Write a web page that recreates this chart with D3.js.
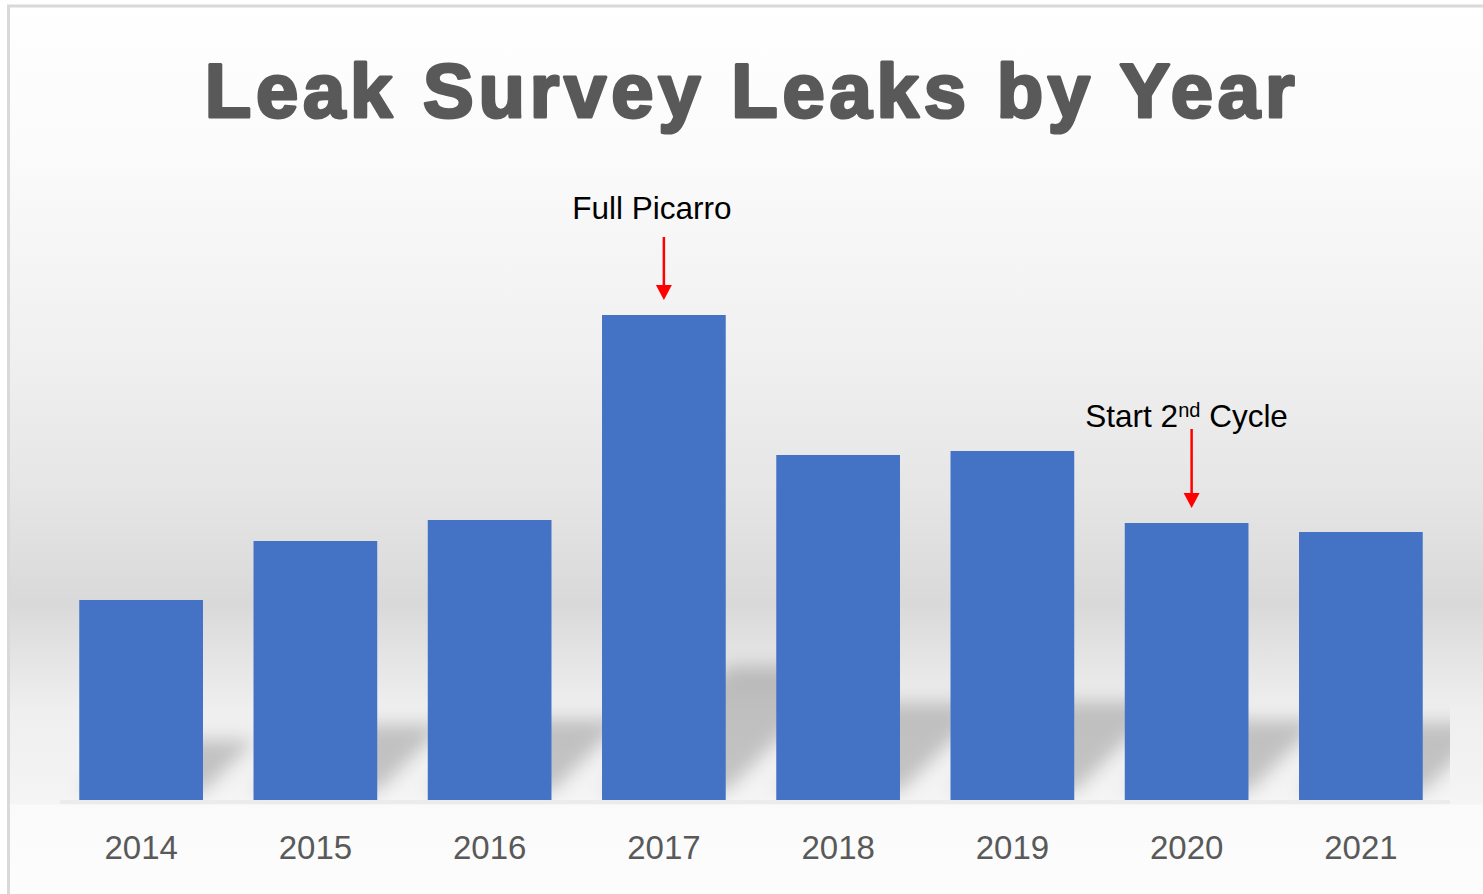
<!DOCTYPE html>
<html lang="en">
    <head>
        <meta charset="utf-8">
        <title>Leak Survey Leaks by Year</title>
        <script src="https://d3js.org/d3.v7.min.js"></script>
        <style>
            body { margin: 0; background: #ffffff; }
            svg { display: block; }
        </style>
    </head>

    <body>
        <div id="chart"></div>

        <script>

            // data (no value axis, so relative bar heights)
            var years = ["2014", "2015", "2016", "2017", "2018", "2019", "2020", "2021"];
            var leaks = [200, 259, 280, 485, 345, 349, 277, 268];

            // annotations
            var noteYears = ["2017", "2020"];
            var noteTexts = ["Full Picarro", "Start 2nd Cycle"];

            var width = 1483;
            var height = 894;
            var baseY = 800;

            var svg = d3.select("#chart")
                        .append("svg")
                        .attr("width", width)
                        .attr("height", height);

            var defs = svg.append("defs");

            // background gradient (white -> grey band -> light)
            var grad = defs.append("linearGradient")
                .attr("id", "bg")
                .attr("gradientUnits", "userSpaceOnUse")
                .attr("x1", 0).attr("y1", 0)
                .attr("x2", 0).attr("y2", height);
            var stops = [
                [0, "#ffffff"], [62, "#fdfdfd"], [150, "#fbfbfb"], [353, "#f0f0f0"],
                [487, "#e6e6e6"], [603, "#d9d9d9"], [710, "#efefef"], [780, "#f3f3f3"],
                [804, "#f5f5f5"], [805, "#fafafa"], [894, "#fdfdfd"]
            ];
            stops.forEach(function(s){
                grad.append("stop")
                    .attr("offset", s[0] / height)
                    .attr("stop-color", s[1]);
            });

            defs.append("filter")
                .attr("id", "blur")
                .attr("x", "-30%").attr("y", "-30%")
                .attr("width", "160%").attr("height", "160%")
                .append("feGaussianBlur")
                .attr("stdDeviation", 9);

            defs.append("clipPath")
                .attr("id", "plotClip")
                .append("rect")
                .attr("x", 10).attr("y", 0)
                .attr("width", 1440).attr("height", 805);

            // chart background + frame
            svg.append("rect")
                .attr("x", 8.5).attr("y", 6)
                .attr("width", 1500).attr("height", 900)
                .attr("fill", "url(#bg)")
                .attr("stroke", "#d9d9d9")
                .attr("stroke-width", 3);

            var x = d3.scaleBand()
                    .domain(years)
                    .range([54, 1448])
                    .paddingInner(0.29)
                    .paddingOuter(0.145);

            var y = d3.scaleLinear()
                    .domain([0, d3.max(leaks)])
                    .range([baseY, 315]);

            var data = years.map(function(d, i){
                return {year: d, value: leaks[i]};
            });

            // perspective shadows behind the bars
            var shadows = svg.append("g")
                .attr("clip-path", "url(#plotClip)")
                .append("g")
                .attr("filter", "url(#blur)");

            shadows.selectAll("polygon")
                .data(data)
                .enter()
                .append("polygon")
                .attr("points", function(d){
                    var x0 = x(d.year);
                    var x1 = x0 + x.bandwidth();
                    var k = (baseY - y(d.value)) * 0.26;
                    var b = baseY - 8;
                    return [[x0, b], [x1, b], [x1 + k, b - k], [x0 + k, b - k]]
                        .map(function(p){ return p.join(","); }).join(" ");
                })
                .attr("fill", "#000000")
                .attr("fill-opacity", 0.2);

            // faint floor band under the bars
            svg.append("rect")
                .attr("x", 60).attr("y", baseY)
                .attr("width", 1390).attr("height", 4)
                .attr("fill", "#ebebeb");

            // bars
            svg.selectAll(".bar")
                .data(data)
                .enter()
                .append("rect")
                .attr("class", "bar")
                .attr("x", function(d){ return x(d.year); })
                .attr("y", function(d){ return y(d.value); })
                .attr("width", x.bandwidth())
                .attr("height", function(d){ return baseY - y(d.value); })
                .attr("fill", "#4472c4");

            // category axis (no line, no ticks)
            var xAxis = svg.append("g")
                .attr("transform", "translate(0," + baseY + ")")
                .call(d3.axisBottom(x).tickSize(0).tickPadding(59));
            xAxis.select(".domain").remove();
            xAxis.selectAll("text")
                .attr("fill", "#595959")
                .style("font-family", "'Liberation Sans', Arial, sans-serif")
                .style("font-size", "33px")
                .attr("dy", 0);

            // title
            svg.append("text")
                .attr("x", 752)
                .attr("y", 117)
                .attr("text-anchor", "middle")
                .style("font-family", "'Liberation Sans', Arial, sans-serif")
                .style("font-weight", "bold")
                .style("font-size", "76px")
                .style("letter-spacing", "4.8px")
                .attr("fill", "#595959")
                .attr("stroke", "#595959")
                .attr("stroke-width", 3)
                .attr("stroke-linejoin", "round")
                .text("Leak Survey Leaks by Year");

            // annotations with red arrows
            var noteDx = [-12, 0];
            var arrowLen = [63, 79];

            noteYears.forEach(function(yr, i){
                var v = leaks[years.indexOf(yr)];
                var cx = x(yr) + x.bandwidth() / 2;
                var top = y(v);
                var ax = cx + (i === 1 ? 5 : 0);
                var tip = top - 15;

                var t = svg.append("text")
                    .attr("x", cx + noteDx[i])
                    .attr("y", top - 96)
                    .attr("text-anchor", "middle")
                    .style("font-family", "'Liberation Sans', Arial, sans-serif")
                    .style("font-size", "31.5px")
                    .attr("fill", "#000000");

                if (noteTexts[i].indexOf("2nd") >= 0) {
                    var parts = noteTexts[i].split("2nd");
                    t.append("tspan").text(parts[0] + "2");
                    t.append("tspan").attr("dy", -10).style("font-size", "20px").text("nd");
                    t.append("tspan").attr("dy", 10).text(parts[1]);
                } else {
                    t.text(noteTexts[i]);
                }

                svg.append("line")
                    .attr("x1", ax).attr("x2", ax)
                    .attr("y1", tip - arrowLen[i])
                    .attr("y2", tip - 12)
                    .attr("stroke", "#ff0000")
                    .attr("stroke-width", 2.5);

                svg.append("path")
                    .attr("d", "M" + (ax - 8) + "," + (tip - 15) + "L" + (ax + 8) + "," + (tip - 15) + "L" + ax + "," + tip + "Z")
                    .attr("fill", "#ff0000");
            });

        </script>
    </body>
</html>
